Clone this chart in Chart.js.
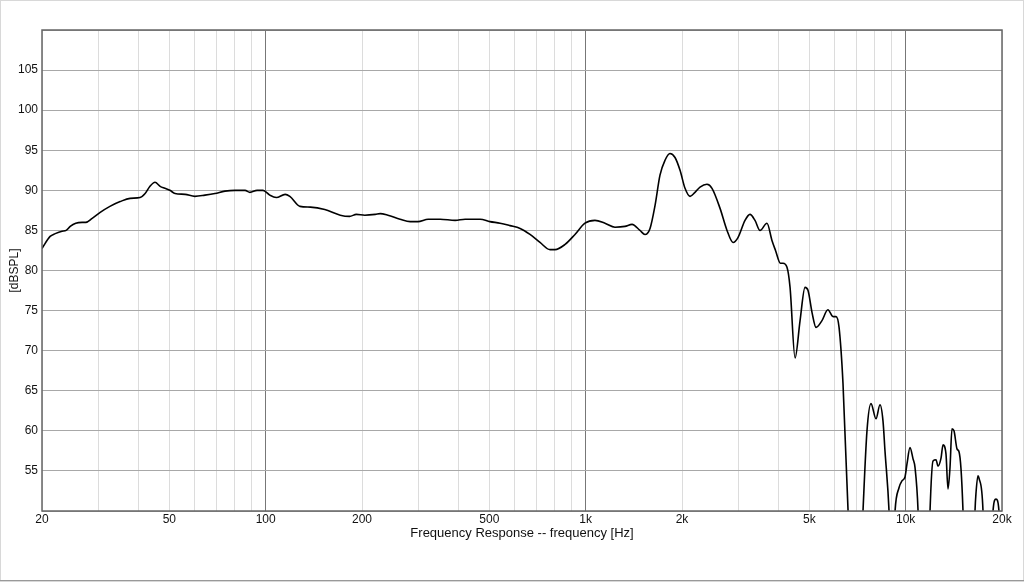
<!DOCTYPE html>
<html>
<head>
<meta charset="utf-8">
<script src="https://cdn.jsdelivr.net/npm/chart.js@4"></script>
<style>
  html, body { margin: 0; padding: 0; background: #fff; }
  #wrap { width: 1024px; height: 582px; }
</style>
</head>
<body>
<div id="wrap"><canvas id="fr" width="1024" height="582"></canvas></div>
<script>
'use strict'

// frequency points [Hz]
const freqHz = [
  20, 21.2, 22.0, 23.1, 23.8, 24.5, 25.5, 26.7, 27.4, 28.7,
  30.4, 32.6, 35.1, 37.7, 40.5, 42.0, 43.5, 45.1, 46.8, 48.4,
  50.2, 52.1, 56.0, 60.1, 64.6, 69.4, 74.6, 80.2, 86.2, 89.3,
  94.0, 98.1, 103, 108, 115, 119, 128, 138, 153, 171,
  183, 192, 204, 220, 228, 241, 263, 283, 299, 322,
  351, 391, 420, 468, 502, 540, 580, 624, 670, 720,
  774, 802, 862, 926, 995, 1069, 1149, 1235, 1327, 1396,
  1478, 1532, 1589, 1647, 1707, 1770, 1834, 1902, 1972, 2044,
  2119, 2196, 2277, 2394, 2482, 2630, 2765, 2887, 2992, 3147,
  3262, 3382, 3506, 3686, 3821, 3920, 4060, 4137, 4257, 4352,
  4512, 4677, 4847, 4954, 5098, 5247, 5476, 5715, 5929, 6060,
  6192, 6370, 6607, 6796, 7096, 7356, 7570, 7792, 8076, 8313,
  8494, 8617, 8872, 9050, 9264, 9532, 9739, 9953, 10098, 10316,
  10544, 10697, 10933, 11200, 11650, 11914, 12175, 12443, 12619, 12897,
  13084, 13366, 13560, 13756, 13955, 14159, 14469, 14678, 14891, 15107,
  15500, 16100, 16469, 16588, 16827, 16949, 17446, 17800, 18400, 18746,
  19154, 19571, 20000
];

// level [dBSPL]
const splDb = [
  82.75, 84.25, 84.6, 84.9, 85.0, 85.5, 85.9, 86.0, 86.0, 86.5,
  87.25, 88.0, 88.6, 89.0, 89.1, 89.6, 90.5, 91.0, 90.5, 90.25,
  90.0, 89.6, 89.5, 89.25, 89.4, 89.6, 89.9, 90.0, 90.0, 89.75,
  90.0, 90.0, 89.4, 89.1, 89.5, 89.25, 88.0, 87.9, 87.6, 86.9,
  86.75, 87.0, 86.9, 87.0, 87.1, 86.9, 86.4, 86.1, 86.1, 86.4,
  86.4, 86.25, 86.4, 86.4, 86.1, 85.9, 85.6, 85.25, 84.5, 83.5,
  82.6, 82.6, 83.25, 84.5, 85.9, 86.25, 85.9, 85.4, 85.5, 85.75,
  85.0, 84.5, 85.25, 88.1, 91.9, 93.75, 94.6, 94.1, 92.5, 90.25,
  89.25, 89.75, 90.4, 90.75, 90.25, 87.75, 85.0, 83.5, 84.1, 86.25,
  87.0, 86.25, 85.0, 85.9, 83.75, 82.5, 80.9, 80.9, 80.4, 77.9,
  69.1, 73.75, 77.9, 77.5, 74.75, 72.9, 73.75, 75.1, 74.25, 74.25,
  72.9, 65.9, 50.0, 35.0, 35.0, 50.0, 60.0, 63.4, 61.5, 63.25,
  61.25, 57.5, 50.0, 40.0, 50.0, 52.9, 53.75, 54.25, 55.9, 57.9,
  56.5, 55.4, 50.0, 35.0, 35.0, 50.0, 56.25, 56.4, 55.6, 56.6,
  58.25, 57.1, 52.75, 55.4, 60.25, 60.0, 57.75, 57.4, 55.25, 50.0,
  35.0, 35.0, 50.0, 52.25, 54.4, 54.1, 50.0, 35.0, 35.0, 50.0,
  51.5, 50.0, 40.0
];

// x grid positions and labelled ones
const xGridHz = [
  20, 30, 40, 50, 60, 70, 80, 90, 100,
  200, 300, 400, 500, 600, 700, 800, 900, 1000,
  2000, 3000, 4000, 5000, 6000, 7000, 8000, 9000, 10000, 20000
];
const xLabels = { 20: '20', 50: '50', 100: '100', 200: '200', 500: '500',
  1000: '1k', 2000: '2k', 5000: '5k', 10000: '10k', 20000: '20k' };
const xMajorHz = [100, 1000, 10000];
const yMin = 50, yMax = 110, yStep = 5;

// 바깥 테두리 + 플롯 테두리
const framePlugin = {
  id: 'frame',
  beforeDraw(chart) {
    const c = chart.ctx;
    c.save();
    c.fillStyle = '#fff';
    c.fillRect(0, 0, chart.width, chart.height);
    c.strokeStyle = '#d8d8d8';
    c.lineWidth = 1;
    c.strokeRect(0.5, 0.5, chart.width - 1, chart.height - 1);
    c.strokeStyle = '#999';
    c.beginPath();
    c.moveTo(0, chart.height - 1.5);
    c.lineTo(chart.width, chart.height - 1.5);
    c.stroke();
    c.restore();
  },
  afterDatasetsDraw(chart) {
    const a = chart.chartArea;
    const c = chart.ctx;
    c.save();
    c.strokeStyle = '#666';
    c.lineWidth = 1.5;
    c.strokeRect(a.left, a.top, a.right - a.left, a.bottom - a.top);
    c.restore();
  }
};

new Chart(document.getElementById('fr'), {
  type: 'line',
  data: {
    datasets: [{
      data: freqHz.map((f, i) => ({ x: f, y: splDb[i] })),
      borderColor: '#000',
      borderWidth: 1.6,
      pointRadius: 0,
      fill: false,
      cubicInterpolationMode: 'monotone'
    }]
  },
  plugins: [framePlugin],
  options: {
    responsive: false,
    animation: false,
    devicePixelRatio: 1,
    layout: { padding: { left: 0, right: 22, top: 30, bottom: 41 } },
    plugins: { legend: { display: false }, tooltip: { enabled: false } },
    scales: {
      x: {
        type: 'logarithmic',
        min: 20,
        max: 20000,
        afterBuildTicks(scale) {
          scale.ticks = xGridHz.map(v => ({ value: v }));
        },
        afterFit(scale) { scale.height = 30; },
        ticks: {
          autoSkip: false,
          maxRotation: 0,
          padding: 1,
          color: '#111',
          font: { family: 'Liberation Sans', size: 12 },
          callback: (v) => xLabels[v] || ''
        },
        grid: {
          drawTicks: false,
          lineWidth: 1,
          color: (ctx) => xMajorHz.includes(ctx.tick && ctx.tick.value) ? '#777' : '#dcdcdc'
        },
        border: { display: false },
        title: {
          display: true,
          text: 'Frequency Response -- frequency [Hz]',
          color: '#111',
          font: { family: 'Liberation Sans', size: 13 },
          padding: { top: 0, bottom: 0 }
        }
      },
      y: {
        min: yMin,
        max: yMax,
        afterFit(scale) { scale.width = 42; },
        ticks: {
          stepSize: yStep,
          padding: 4,
          color: '#111',
          font: { family: 'Liberation Sans', size: 12 },
          callback: (v) => (v === yMin || v === yMax) ? '' : v
        },
        grid: { drawTicks: false, color: '#a8a8a8', lineWidth: 1 },
        border: { display: false },
        title: {
          display: true,
          text: '[dBSPL]',
          color: '#111',
          font: { family: 'Liberation Sans', size: 12 },
          padding: { top: 7, bottom: 0 }
        }
      }
    }
  }
});
</script>
</body>
</html>
